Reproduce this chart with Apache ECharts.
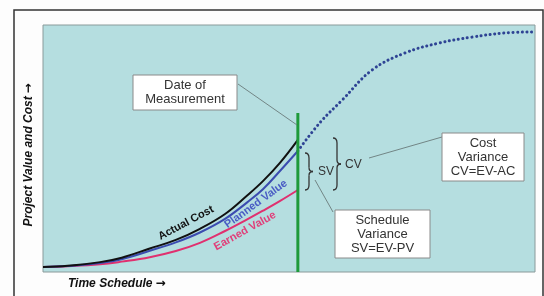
<!DOCTYPE html>
<html lang="en">
<head>
<meta charset="UTF-8">
<title>Earned Value</title>
<script src="https://cdn.jsdelivr.net/npm/echarts@6/dist/echarts.min.js"></script>
<style>html,body{margin:0;padding:0;background:#fff}</style>
</head>
<body>
<div id="main" style="width:544px;height:296px"></div>
<script>
// values (time and value both 0..100)
var timeAxis     = [0, 5, 11.6, 16, 21.7, 27, 31.9, 37, 41.5, 44.7, 48.2, 51.8];
var actualCost   = [2, 2.5, 4, 5.8, 9.5, 13, 17.5, 23.5, 31, 36.8, 44.3, 53.5];
var plannedValue = [2, 2.4, 3.6, 5.2, 8.6, 12, 16, 21.5, 28.2, 33.5, 41, 49];
var earnedValue  = [2, 2.3, 3.1, 4.2, 6, 8.5, 11.8, 16.6, 21.3, 24.8, 28.8, 33.2];
var forecastTime  = [51.8, 56.3, 60.8, 66.9, 73.6, 80.5, 87.2, 93.9, 100];
var forecastValue = [49, 60.5, 69.6, 81.8, 88.7, 92.7, 95.1, 96.8, 97.2];
var measureDate = 51.8;
var measureTop = 64.4;

function pairs(xs, ys) {
    var out = [];
    for (var i = 0; i < xs.length; i++) out.push([xs[i], ys[i]]);
    return out;
}

var chart = echarts.init(document.getElementById('main'));

function box(x, y, w, h, txt) {
    return [
        {type: 'rect', shape: {x: x, y: y, width: w, height: h}, z: 20,
         style: {fill: '#fff', stroke: '#8a8a8a', lineWidth: 1}},
        {type: 'text', x: x + w / 2, y: y + h / 2, z: 21,
         style: {text: txt, fill: '#333', font: '13px "Liberation Sans", Arial',
                 align: 'center', verticalAlign: 'middle', lineHeight: 14}}
    ];
}
function leader(x1, y1, x2, y2) {
    return {type: 'line', z: 15, shape: {x1: x1, y1: y1, x2: x2, y2: y2},
            style: {stroke: '#6a7a7a', lineWidth: 0.9}};
}
// curly brace pointing right, made of curves and straight pieces
function brace(x, y0, y1, w) {
    var m = (y0 + y1) / 2, h = w / 2;
    var st = {stroke: '#333', lineWidth: 1.3, fill: null};
    function q(x1, y1, cx, cy, x2, y2) {
        return {type: 'bezierCurve', z: 15, style: st,
                shape: {x1: x1, y1: y1, cpx1: cx, cpy1: cy, x2: x2, y2: y2}};
    }
    function l(x1, y1, x2, y2) {
        return {type: 'line', z: 15, style: st, shape: {x1: x1, y1: y1, x2: x2, y2: y2}};
    }
    return [
        q(x, y0, x + h, y0, x + h, y0 + 5),
        l(x + h, y0 + 5, x + h, m - 4),
        q(x + h, m - 4, x + h, m, x + w, m),
        q(x + w, m, x + h, m, x + h, m + 4),
        l(x + h, m + 4, x + h, y1 - 5),
        q(x + h, y1 - 5, x + h, y1, x, y1)
    ];
}
function curveLabel(x, y, deg, txt, color) {
    return {type: 'text', x: x, y: y, rotation: deg * Math.PI / 180, z: 15,
            style: {text: txt, fill: color, font: 'bold 11px "Liberation Sans", Arial',
                    align: 'center', verticalAlign: 'middle'}};
}
var arrowRich = {
    a: {fontFamily: '"Liberation Sans", Arial', fontWeight: 'bold', fontStyle: 'italic', fill: '#111'},
    b: {fontFamily: '"DejaVu Sans"', fontWeight: 'bold', fill: '#111'}
};

var graphics = [
    // outer frame
    {type: 'rect', shape: {x: 14, y: 10, width: 529, height: 300}, z: 30,
     style: {fill: null, stroke: '#333', lineWidth: 1.5}},
    {type: 'text', x: 68, y: 284, style: {text: '{a|Time Schedule} {b|\u2192}', fontSize: 11,
     rich: arrowRich, verticalAlign: 'middle'}},
    {type: 'text', x: 29, y: 155, rotation: Math.PI / 2, style: {text: '{a|Project Value and Cost} {b|\u2192}',
     fontSize: 9.5, rich: arrowRich, align: 'center', verticalAlign: 'middle'}},
    leader(238, 84, 297, 125),
    leader(369, 158, 442, 137),
    leader(315, 180, 333, 212),
    {type: 'text', x: 318, y: 172, z: 15, style: {text: 'SV', fill: '#333',
     font: '12px "Liberation Sans", Arial', verticalAlign: 'middle'}},
    {type: 'text', x: 345, y: 165, z: 15, style: {text: 'CV', fill: '#333',
     font: '12px "Liberation Sans", Arial', verticalAlign: 'middle'}},
    curveLabel(186, 223, 28, 'Actual Cost', '#111'),
    curveLabel(256, 204, 36, 'Planned Value', '#4a5cc4'),
    curveLabel(245, 231, 29, 'Earned Value', '#e0407a')
].concat(brace(305, 153, 190, 8))
 .concat(brace(333, 138, 190, 8))
 .concat(box(133, 75, 104, 35, 'Date of\nMeasurement'))
 .concat(box(442, 133, 82, 48, 'Cost\nVariance\nCV=EV-AC'))
 .concat(box(335, 210, 95, 48, 'Schedule\nVariance\nSV=EV-PV'));

var option = {
    backgroundColor: '#fdfdfd',
    animation: false,
    grid: {left: 43, top: 25, right: 9, bottom: 24, show: true,
           backgroundColor: '#b5dee0', borderColor: '#8a9a9a', borderWidth: 1},
    xAxis: {type: 'value', min: 0, max: 100, show: false},
    yAxis: {type: 'value', min: 0, max: 100, show: false},
    graphic: graphics,
    series: [
        {name: 'Forecast', type: 'line', smooth: 0.4, symbol: 'none',
         data: pairs(forecastTime, forecastValue),
         lineStyle: {color: '#2e4394', width: 3, type: [0.1, 4.5], cap: 'round'}},
        {name: 'Earned Value', type: 'line', smooth: 0.4, symbol: 'none',
         data: pairs(timeAxis, earnedValue), lineStyle: {color: '#e0306f', width: 2}},
        {name: 'Planned Value', type: 'line', smooth: 0.4, symbol: 'none',
         data: pairs(timeAxis, plannedValue), lineStyle: {color: '#3b4cb0', width: 2}},
        {name: 'Actual Cost', type: 'line', smooth: 0.4, symbol: 'none',
         data: pairs(timeAxis, actualCost), lineStyle: {color: '#111', width: 2}},
        {name: 'Date of Measurement', type: 'line', symbol: 'none',
         data: [[measureDate, 0], [measureDate, measureTop]],
         lineStyle: {color: '#1e9a3a', width: 3}}
    ]
};
chart.setOption(option);
</script>
</body>
</html>
